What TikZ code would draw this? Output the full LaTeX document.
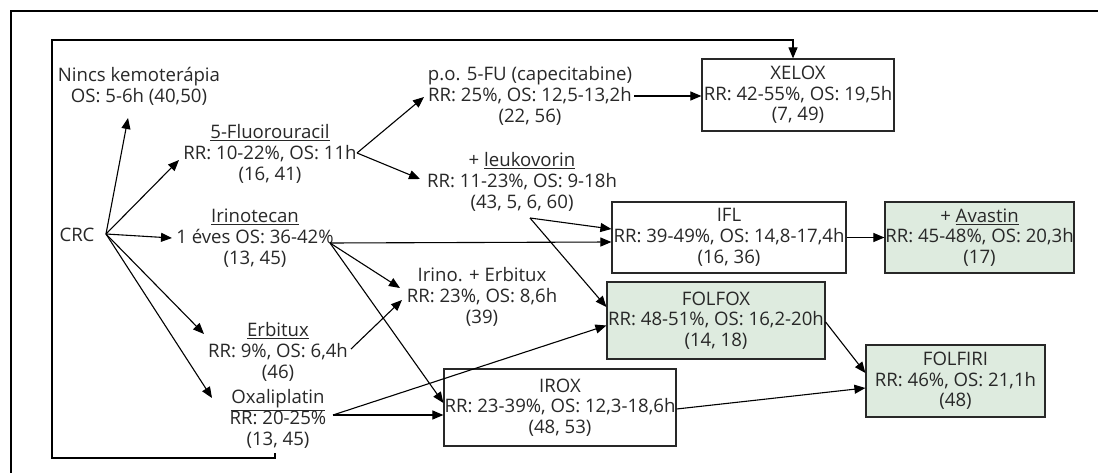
\documentclass[tikz,border=0pt]{standalone}
\usepackage{fontspec}
\setmainfont{Open Sans}
\usetikzlibrary{arrows.meta,calc}
\definecolor{boxgreen}{RGB}{222,235,223}
\definecolor{ink}{RGB}{40,40,40}
\tikzset{
  lbl/.style={align=center,inner sep=0pt,font=\fontsize{18.6}{20.7}\selectfont,text=ink},
  box/.style={lbl,draw=ink,line width=1.2pt,rectangle},
  gbox/.style={box,fill=boxgreen},
  conn/.style={-{Triangle[length=11pt,width=9pt]},line width=1.1pt,draw=black},
  frameline/.style={line width=1.4pt,draw=black}
}
\begin{document}
\begin{tikzpicture}[x=1pt,y=-1pt]
\useasboundingbox (0,0) rectangle (1098,473);
\fill[white] (0,0) rectangle (1098,473);
\draw[frameline] (11,473) -- (11,11) -- (1098,11);

% text nodes
\node[lbl] (nincs) at (139,86) {Nincs kemoterápia\\OS: 5-6h (40,50)};
\node[lbl] (crc) at (77,235) {CRC};
\node[lbl] (fu) at (270,154) {\underline{5-Fluorouracil}\\RR: 10-22\%, OS: 11h\\(16, 41)};
\node[lbl] (iri) at (255,238) {\underline{Irinotecan}\\1 éves OS: 36-42\%\\(13, 45)};
\node[lbl] (erb) at (278,352) {\underline{Erbitux}\\RR: 9\%, OS: 6,4h\\(46)};
\node[lbl] (oxa) at (278,419) {\underline{Oxaliplatin}\\RR: 20-25\%\\(13, 45)};
\node[lbl] (po) at (530,96) {p.o. 5-FU (capecitabine)\\RR: 25\%, OS: 12,5-13,2h\\(22, 56)};
\node[lbl] (leu) at (522,182) {+ \underline{leukovorin}\\RR: 11-23\%, OS: 9-18h\\(43, 5, 6, 60)};
\node[lbl] (ie) at (482,297) {Irino. + Erbitux\\RR: 23\%, OS: 8,6h\\(39)};

% boxes
\node[box,minimum width=192pt,minimum height=72pt] (xelox) at (798,95) {XELOX\\RR: 42-55\%, OS: 19,5h\\(7, 49)};
\node[box,minimum width=234pt,minimum height=71pt] (ifl) at (729,237.5) {IFL\\RR: 39-49\%, OS: 14,8-17,4h\\(16, 36)};
\node[gbox,minimum width=189pt,minimum height=71pt] (ava) at (979.5,237.5) {+ \underline{Avastin}\\RR: 45-48\%, OS: 20,3h\\(17)};
\node[gbox,minimum width=218pt,minimum height=77pt] (folfox) at (716,320.5) {FOLFOX\\RR: 48-51\%, OS: 16,2-20h\\(14, 18)};
\node[box,minimum width=232pt,minimum height=77pt] (irox) at (560,407.5) {IROX\\RR: 23-39\%, OS: 12,3-18,6h\\(48, 53)};
\node[gbox,minimum width=179pt,minimum height=72pt] (folfiri) at (955.5,381) {FOLFIRI\\RR: 46\%, OS: 21,1h\\(48)};

% ports
\coordinate (crco) at (106,234);
\coordinate (fuo) at (357,153);
\coordinate (leuo) at (530,218);
\coordinate (irio) at (330,243);
\coordinate (erbo) at (351,349);
\coordinate (oxao) at (333,415);
\coordinate (poo) at (634,96);
\coordinate (oxab) at (275,453);
% tips near text nodes
\coordinate (tnincs) at (128,118);
\coordinate (tfu) at (179,160);
\coordinate (tiri) at (172,238);
\coordinate (terb) at (204,334);
\coordinate (toxa) at (212,398);
\coordinate (tpo) at (424,97);
\coordinate (tleu) at (420,179);
\coordinate (tie1) at (400,288);
\coordinate (tie2) at (402,300);

% connectors
\draw[conn] (crco) -- (tnincs);
\draw[conn] (crco) -- (tfu);
\draw[conn] (crco) -- (tiri);
\draw[conn] (crco) -- (terb);
\draw[conn] (crco) -- (toxa);
\draw[conn] (fuo) -- (tpo);
\draw[conn] (fuo) -- (tleu);
\draw[conn] (poo) -- (poo -| xelox.west);
\draw[conn] (leuo) -- ($(ifl.west)+(0,-8.5)$);
\draw[conn] (leuo) -- ($(folfox.west)+(0,-13.5)$);
\draw[conn] (irio) -- ($(ifl.west)+(0,4.5)$);
\draw[conn] (irio) -- (tie1);
\draw[conn] (irio) -- ($(irox.west)+(0,-4.5)$);
\draw[conn] (erbo) -- (tie2);
\draw[conn] (oxao) -- ($(folfox.west)+(0,5)$);
\draw[conn] (oxao) -- ($(irox.west)+(0,7.5)$);
\draw[conn] (ifl.east) -- (ava.west);
\draw[conn] ($(folfox.east)+(0,1.5)$) -- ($(folfiri.west)+(0,-8)$);
\draw[conn] ($(irox.east)+(0,1.5)$) -- ($(folfiri.west)+(0,7)$);
\draw[conn] (oxab) -- ++(0,5) -| (52,40) -| ($(xelox.north)+(-5,0)$);
\end{tikzpicture}
\end{document}
